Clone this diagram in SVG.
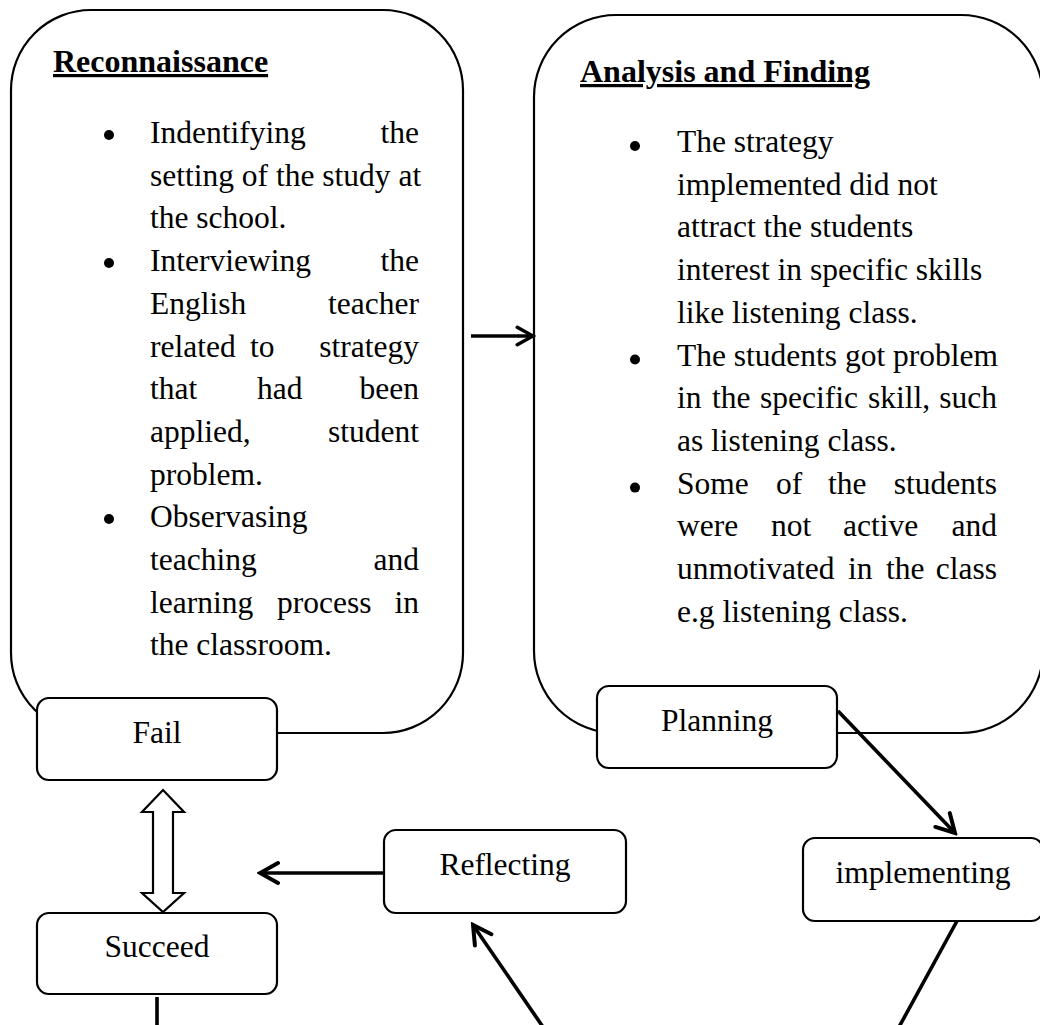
<svg xmlns="http://www.w3.org/2000/svg" width="1040" height="1025" viewBox="0 0 1040 1025">
<style>
  .box { fill: #ffffff; stroke: #000000; stroke-width: 2.2; }
  .node { fill: #ffffff; stroke: #000000; stroke-width: 2.2; }
  .t { font-family: "Liberation Serif", "Times New Roman", serif; font-size: 31.5px; fill: #000000; }
  .title { font-family: "Liberation Serif", "Times New Roman", serif; font-size: 32px; font-weight: bold; text-decoration: underline; fill: #000000; }
  .lbl { font-family: "Liberation Serif", "Times New Roman", serif; font-size: 31.5px; fill: #000000; text-anchor: middle; }
  .e { text-anchor: end; }
  .line { fill: none; stroke: #000000; stroke-width: 3.6; }
  .bullet { fill: #000000; }
</style>
<defs>
  <marker id="open" viewBox="0 0 24 26" refX="21" refY="13" markerWidth="24" markerHeight="26" markerUnits="userSpaceOnUse" orient="auto">
    <path d="M3,3 L21,13 L3,23" fill="none" stroke="#000" stroke-width="4" stroke-linecap="round" stroke-linejoin="miter"/>
  </marker>
  <marker id="open-s" viewBox="0 0 24 26" refX="21" refY="13" markerWidth="21" markerHeight="23" markerUnits="userSpaceOnUse" orient="auto">
    <path d="M3,3 L21,13 L3,23" fill="none" stroke="#000" stroke-width="4" stroke-linecap="round" stroke-linejoin="miter"/>
  </marker>
</defs>

<g id="reconnaissance">
  <rect class="box" x="11" y="10" width="452" height="723" rx="80" ry="80"/>
  <text class="title" x="53" y="72">Reconnaissance</text>
  <circle class="bullet" cx="109" cy="135" r="5"/>
  <text class="t" x="150" y="143">Indentifying</text><text class="t e" x="419" y="143">the</text>
  <text class="t" x="150" y="185.7">setting of the study at</text>
  <text class="t" x="150" y="228.4">the school.</text>
  <circle class="bullet" cx="109" cy="263" r="5"/>
  <text class="t" x="150" y="271">Interviewing</text><text class="t e" x="419" y="271">the</text>
  <text class="t" x="150" y="313.8">English</text><text class="t e" x="419" y="313.8">teacher</text>
  <text class="t" x="150" y="356.5">related</text><text class="t" x="250" y="356.5">to</text><text class="t e" x="419" y="356.5">strategy</text>
  <text class="t" x="150" y="399">that</text><text class="t" x="257" y="399">had</text><text class="t e" x="419" y="399">been</text>
  <text class="t" x="150" y="441.9">applied,</text><text class="t e" x="419" y="441.9">student</text>
  <text class="t" x="150" y="484.6">problem.</text>
  <circle class="bullet" cx="109" cy="519" r="5"/>
  <text class="t" x="150" y="527.3">Observasing</text>
  <text class="t" x="150" y="570">teaching</text><text class="t e" x="419" y="570">and</text>
  <text class="t" x="150" y="612.7">learning</text><text class="t" x="277" y="612.7">process</text><text class="t e" x="419" y="612.7">in</text>
  <text class="t" x="150" y="655.4">the classroom.</text>
</g>

<g id="analysis">
  <rect class="box" x="534" y="15" width="509" height="718" rx="82" ry="82"/>
  <text class="title" x="580" y="82">Analysis and Finding</text>
  <circle class="bullet" cx="635" cy="146" r="5"/>
  <text class="t" x="677" y="152">The strategy</text>
  <text class="t" x="677" y="194.7">implemented did not</text>
  <text class="t" x="677" y="237.4">attract the students</text>
  <text class="t" x="677" y="280">interest in specific skills</text>
  <text class="t" x="677" y="322.8">like listening class.</text>
  <circle class="bullet" cx="635" cy="359.5" r="5"/>
  <text class="t" x="677" y="365.5">The students got problem</text>
  <text class="t" x="677" y="408">in</text><text class="t" x="712" y="408">the</text><text class="t" x="760" y="408">specific</text><text class="t" x="868" y="408">skill,</text><text class="t e" x="997" y="408">such</text>
  <text class="t" x="677" y="450.9">as listening class.</text>
  <circle class="bullet" cx="635" cy="487.6" r="5"/>
  <text class="t" x="677" y="493.6">Some</text><text class="t" x="776" y="493.6">of</text><text class="t" x="828" y="493.6">the</text><text class="t e" x="997" y="493.6">students</text>
  <text class="t" x="677" y="536.3">were</text><text class="t" x="771" y="536.3">not</text><text class="t" x="843" y="536.3">active</text><text class="t e" x="997" y="536.3">and</text>
  <text class="t" x="677" y="579">unmotivated</text><text class="t" x="848" y="579">in</text><text class="t" x="886" y="579">the</text><text class="t e" x="997" y="579">class</text>
  <text class="t" x="677" y="621.7">e.g listening class.</text>
</g>

<g id="connectors">
  <line class="line" x1="471" y1="336" x2="533" y2="336" marker-end="url(#open-s)"/>
  <line class="line" x1="838" y1="711" x2="955" y2="833" marker-end="url(#open)"/>
  <line class="line" x1="384" y1="873" x2="260" y2="873" marker-end="url(#open)"/>
  <line class="line" x1="543" y1="1027" x2="473" y2="925" marker-end="url(#open)"/>
  <line class="line" x1="957" y1="921" x2="899" y2="1027"/>
  <line class="line" x1="157" y1="997" x2="157" y2="1027"/>
  <polygon id="fail-succeed" points="163,790 184,812 173,812 173,893 184,893 163,912 142,893 153,893 153,812 142,812" fill="#ffffff" stroke="#000000" stroke-width="2.2" stroke-linejoin="miter"/>
</g>

<g id="fail">
  <rect class="node" x="37" y="698" width="240" height="82" rx="12" ry="12"/>
  <text class="lbl" x="157" y="743">Fail</text>
</g>
<g id="planning">
  <rect class="node" x="597" y="686" width="240" height="82" rx="12" ry="12"/>
  <text class="lbl" x="717" y="731">Planning</text>
</g>
<g id="succeed">
  <rect class="node" x="37" y="913" width="240" height="81" rx="12" ry="12"/>
  <text class="lbl" x="157" y="957">Succeed</text>
</g>
<g id="reflecting">
  <rect class="node" x="384" y="830" width="242" height="83" rx="12" ry="12"/>
  <text class="lbl" x="505" y="875">Reflecting</text>
</g>
<g id="implementing">
  <rect class="node" x="803" y="838" width="240" height="83" rx="12" ry="12"/>
  <text class="lbl" x="923" y="883">implementing</text>
</g>
</svg>
